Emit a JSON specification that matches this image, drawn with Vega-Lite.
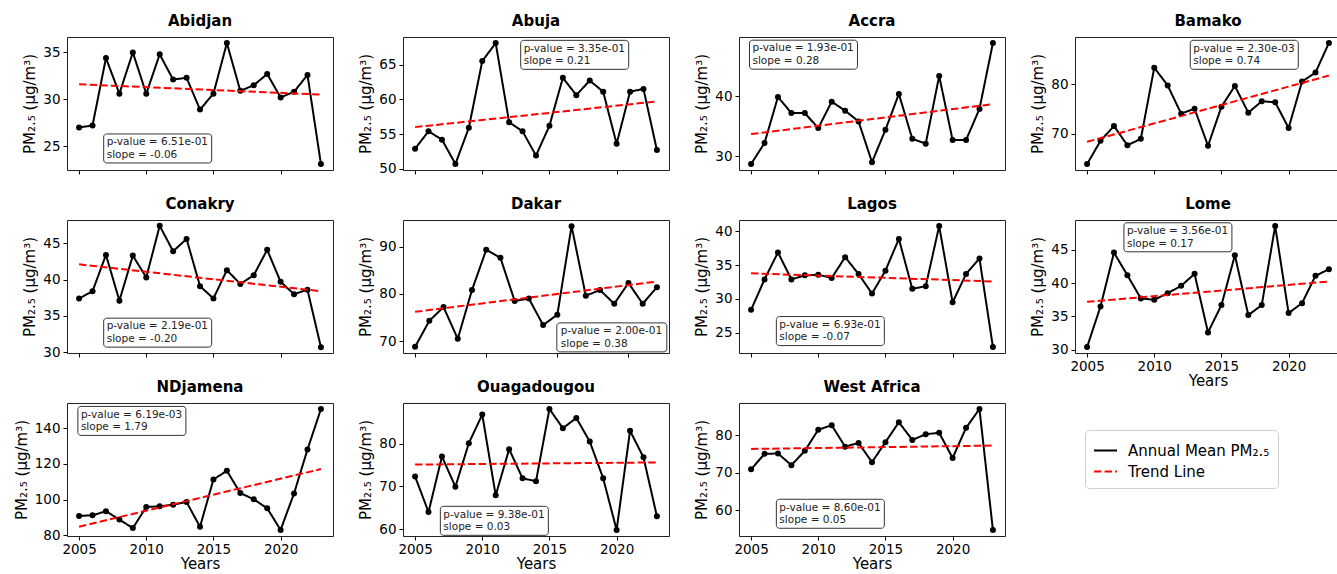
{
"$schema": "https://vega.github.io/schema/vega-lite/v6.json",
"background": "white",
"padding": {"left": 13, "top": 13, "right": 0, "bottom": 0},
"data": {"values": [
{"city":"Abidjan","kind":"a","year":2005,"pm":27.0},{"city":"Abidjan","kind":"a","year":2006,"pm":27.2},{"city":"Abidjan","kind":"a","year":2007,"pm":34.4},{"city":"Abidjan","kind":"a","year":2008,"pm":30.6},{"city":"Abidjan","kind":"a","year":2009,"pm":35.0},{"city":"Abidjan","kind":"a","year":2010,"pm":30.6},{"city":"Abidjan","kind":"a","year":2011,"pm":34.8},{"city":"Abidjan","kind":"a","year":2012,"pm":32.1},{"city":"Abidjan","kind":"a","year":2013,"pm":32.3},{"city":"Abidjan","kind":"a","year":2014,"pm":28.9},{"city":"Abidjan","kind":"a","year":2015,"pm":30.6},{"city":"Abidjan","kind":"a","year":2016,"pm":36.0},{"city":"Abidjan","kind":"a","year":2017,"pm":30.9},{"city":"Abidjan","kind":"a","year":2018,"pm":31.5},{"city":"Abidjan","kind":"a","year":2019,"pm":32.7},{"city":"Abidjan","kind":"a","year":2020,"pm":30.2},{"city":"Abidjan","kind":"a","year":2021,"pm":30.8},{"city":"Abidjan","kind":"a","year":2022,"pm":32.6},{"city":"Abidjan","kind":"a","year":2023,"pm":23.1},
{"city":"Abidjan","kind":"t","year":2005,"pm":31.6},{"city":"Abidjan","kind":"t","year":2023,"pm":30.5},
{"city":"Abidjan","kind":"s","year":2010.85,"pm":24.75,"label":"p-value = 6.51e-01\nslope = -0.06"},
{"city":"Abuja","kind":"a","year":2005,"pm":52.9},{"city":"Abuja","kind":"a","year":2006,"pm":55.4},{"city":"Abuja","kind":"a","year":2007,"pm":54.2},{"city":"Abuja","kind":"a","year":2008,"pm":50.7},{"city":"Abuja","kind":"a","year":2009,"pm":55.9},{"city":"Abuja","kind":"a","year":2010,"pm":65.5},{"city":"Abuja","kind":"a","year":2011,"pm":68.1},{"city":"Abuja","kind":"a","year":2012,"pm":56.7},{"city":"Abuja","kind":"a","year":2013,"pm":55.4},{"city":"Abuja","kind":"a","year":2014,"pm":51.9},{"city":"Abuja","kind":"a","year":2015,"pm":56.2},{"city":"Abuja","kind":"a","year":2016,"pm":63.1},{"city":"Abuja","kind":"a","year":2017,"pm":60.6},{"city":"Abuja","kind":"a","year":2018,"pm":62.7},{"city":"Abuja","kind":"a","year":2019,"pm":61.1},{"city":"Abuja","kind":"a","year":2020,"pm":53.6},{"city":"Abuja","kind":"a","year":2021,"pm":61.1},{"city":"Abuja","kind":"a","year":2022,"pm":61.5},{"city":"Abuja","kind":"a","year":2023,"pm":52.7},
{"city":"Abuja","kind":"t","year":2005,"pm":56.0},{"city":"Abuja","kind":"t","year":2023,"pm":59.7},
{"city":"Abuja","kind":"s","year":2016.88,"pm":66.4,"label":"p-value = 3.35e-01\nslope = 0.21"},
{"city":"Accra","kind":"a","year":2005,"pm":28.7},{"city":"Accra","kind":"a","year":2006,"pm":32.2},{"city":"Accra","kind":"a","year":2007,"pm":39.9},{"city":"Accra","kind":"a","year":2008,"pm":37.2},{"city":"Accra","kind":"a","year":2009,"pm":37.2},{"city":"Accra","kind":"a","year":2010,"pm":34.7},{"city":"Accra","kind":"a","year":2011,"pm":39.1},{"city":"Accra","kind":"a","year":2012,"pm":37.6},{"city":"Accra","kind":"a","year":2013,"pm":35.8},{"city":"Accra","kind":"a","year":2014,"pm":29.0},{"city":"Accra","kind":"a","year":2015,"pm":34.4},{"city":"Accra","kind":"a","year":2016,"pm":40.4},{"city":"Accra","kind":"a","year":2017,"pm":32.9},{"city":"Accra","kind":"a","year":2018,"pm":32.1},{"city":"Accra","kind":"a","year":2019,"pm":43.4},{"city":"Accra","kind":"a","year":2020,"pm":32.7},{"city":"Accra","kind":"a","year":2021,"pm":32.7},{"city":"Accra","kind":"a","year":2022,"pm":37.9},{"city":"Accra","kind":"a","year":2023,"pm":48.9},
{"city":"Accra","kind":"t","year":2005,"pm":33.7},{"city":"Accra","kind":"t","year":2023,"pm":38.7},
{"city":"Accra","kind":"s","year":2008.9,"pm":46.95,"label":"p-value = 1.93e-01\nslope = 0.28"},
{"city":"Bamako","kind":"a","year":2005,"pm":63.9},{"city":"Bamako","kind":"a","year":2006,"pm":68.6},{"city":"Bamako","kind":"a","year":2007,"pm":71.6},{"city":"Bamako","kind":"a","year":2008,"pm":67.7},{"city":"Bamako","kind":"a","year":2009,"pm":69.0},{"city":"Bamako","kind":"a","year":2010,"pm":83.4},{"city":"Bamako","kind":"a","year":2011,"pm":79.8},{"city":"Bamako","kind":"a","year":2012,"pm":74.1},{"city":"Bamako","kind":"a","year":2013,"pm":75.1},{"city":"Bamako","kind":"a","year":2014,"pm":67.6},{"city":"Bamako","kind":"a","year":2015,"pm":75.5},{"city":"Bamako","kind":"a","year":2016,"pm":79.7},{"city":"Bamako","kind":"a","year":2017,"pm":74.3},{"city":"Bamako","kind":"a","year":2018,"pm":76.6},{"city":"Bamako","kind":"a","year":2019,"pm":76.4},{"city":"Bamako","kind":"a","year":2020,"pm":71.2},{"city":"Bamako","kind":"a","year":2021,"pm":80.6},{"city":"Bamako","kind":"a","year":2022,"pm":82.4},{"city":"Bamako","kind":"a","year":2023,"pm":88.4},
{"city":"Bamako","kind":"t","year":2005,"pm":68.4},{"city":"Bamako","kind":"t","year":2023,"pm":81.8},
{"city":"Bamako","kind":"s","year":2016.7,"pm":86.0,"label":"p-value = 2.30e-03\nslope = 0.74"},
{"city":"Conakry","kind":"a","year":2005,"pm":37.4},{"city":"Conakry","kind":"a","year":2006,"pm":38.4},{"city":"Conakry","kind":"a","year":2007,"pm":43.4},{"city":"Conakry","kind":"a","year":2008,"pm":37.1},{"city":"Conakry","kind":"a","year":2009,"pm":43.3},{"city":"Conakry","kind":"a","year":2010,"pm":40.3},{"city":"Conakry","kind":"a","year":2011,"pm":47.4},{"city":"Conakry","kind":"a","year":2012,"pm":43.9},{"city":"Conakry","kind":"a","year":2013,"pm":45.6},{"city":"Conakry","kind":"a","year":2014,"pm":39.1},{"city":"Conakry","kind":"a","year":2015,"pm":37.4},{"city":"Conakry","kind":"a","year":2016,"pm":41.3},{"city":"Conakry","kind":"a","year":2017,"pm":39.4},{"city":"Conakry","kind":"a","year":2018,"pm":40.6},{"city":"Conakry","kind":"a","year":2019,"pm":44.1},{"city":"Conakry","kind":"a","year":2020,"pm":39.7},{"city":"Conakry","kind":"a","year":2021,"pm":38.0},{"city":"Conakry","kind":"a","year":2022,"pm":38.6},{"city":"Conakry","kind":"a","year":2023,"pm":30.7},
{"city":"Conakry","kind":"t","year":2005,"pm":42.1},{"city":"Conakry","kind":"t","year":2023,"pm":38.4},
{"city":"Conakry","kind":"s","year":2010.85,"pm":32.7,"label":"p-value = 2.19e-01\nslope = -0.20"},
{"city":"Dakar","kind":"a","year":2005,"pm":68.8},{"city":"Dakar","kind":"a","year":2006,"pm":74.3},{"city":"Dakar","kind":"a","year":2007,"pm":77.2},{"city":"Dakar","kind":"a","year":2008,"pm":70.5},{"city":"Dakar","kind":"a","year":2009,"pm":80.8},{"city":"Dakar","kind":"a","year":2010,"pm":89.3},{"city":"Dakar","kind":"a","year":2011,"pm":87.6},{"city":"Dakar","kind":"a","year":2012,"pm":78.5},{"city":"Dakar","kind":"a","year":2013,"pm":79.0},{"city":"Dakar","kind":"a","year":2014,"pm":73.4},{"city":"Dakar","kind":"a","year":2015,"pm":75.6},{"city":"Dakar","kind":"a","year":2016,"pm":94.3},{"city":"Dakar","kind":"a","year":2017,"pm":79.6},{"city":"Dakar","kind":"a","year":2018,"pm":80.8},{"city":"Dakar","kind":"a","year":2019,"pm":77.9},{"city":"Dakar","kind":"a","year":2020,"pm":82.3},{"city":"Dakar","kind":"a","year":2021,"pm":77.9},{"city":"Dakar","kind":"a","year":2022,"pm":81.4},
{"city":"Dakar","kind":"t","year":2005,"pm":76.2},{"city":"Dakar","kind":"t","year":2022,"pm":82.6},
{"city":"Dakar","kind":"s","year":2018.83,"pm":70.8,"label":"p-value = 2.00e-01\nslope = 0.38"},
{"city":"Lagos","kind":"a","year":2005,"pm":28.4},{"city":"Lagos","kind":"a","year":2006,"pm":32.9},{"city":"Lagos","kind":"a","year":2007,"pm":36.9},{"city":"Lagos","kind":"a","year":2008,"pm":32.9},{"city":"Lagos","kind":"a","year":2009,"pm":33.5},{"city":"Lagos","kind":"a","year":2010,"pm":33.6},{"city":"Lagos","kind":"a","year":2011,"pm":33.1},{"city":"Lagos","kind":"a","year":2012,"pm":36.2},{"city":"Lagos","kind":"a","year":2013,"pm":33.7},{"city":"Lagos","kind":"a","year":2014,"pm":30.8},{"city":"Lagos","kind":"a","year":2015,"pm":34.2},{"city":"Lagos","kind":"a","year":2016,"pm":38.9},{"city":"Lagos","kind":"a","year":2017,"pm":31.5},{"city":"Lagos","kind":"a","year":2018,"pm":31.9},{"city":"Lagos","kind":"a","year":2019,"pm":40.8},{"city":"Lagos","kind":"a","year":2020,"pm":29.5},{"city":"Lagos","kind":"a","year":2021,"pm":33.7},{"city":"Lagos","kind":"a","year":2022,"pm":36.0},{"city":"Lagos","kind":"a","year":2023,"pm":22.9},
{"city":"Lagos","kind":"t","year":2005,"pm":33.8},{"city":"Lagos","kind":"t","year":2023,"pm":32.6},
{"city":"Lagos","kind":"s","year":2010.9,"pm":25.25,"label":"p-value = 6.93e-01\nslope = -0.07"},
{"city":"Lome","kind":"a","year":2005,"pm":30.4},{"city":"Lome","kind":"a","year":2006,"pm":36.5},{"city":"Lome","kind":"a","year":2007,"pm":44.6},{"city":"Lome","kind":"a","year":2008,"pm":41.2},{"city":"Lome","kind":"a","year":2009,"pm":37.7},{"city":"Lome","kind":"a","year":2010,"pm":37.5},{"city":"Lome","kind":"a","year":2011,"pm":38.5},{"city":"Lome","kind":"a","year":2012,"pm":39.6},{"city":"Lome","kind":"a","year":2013,"pm":41.4},{"city":"Lome","kind":"a","year":2014,"pm":32.6},{"city":"Lome","kind":"a","year":2015,"pm":36.7},{"city":"Lome","kind":"a","year":2016,"pm":44.2},{"city":"Lome","kind":"a","year":2017,"pm":35.2},{"city":"Lome","kind":"a","year":2018,"pm":36.7},{"city":"Lome","kind":"a","year":2019,"pm":48.6},{"city":"Lome","kind":"a","year":2020,"pm":35.5},{"city":"Lome","kind":"a","year":2021,"pm":37.0},{"city":"Lome","kind":"a","year":2022,"pm":41.1},{"city":"Lome","kind":"a","year":2023,"pm":42.1},
{"city":"Lome","kind":"t","year":2005,"pm":37.2},{"city":"Lome","kind":"t","year":2023,"pm":40.25},
{"city":"Lome","kind":"s","year":2011.76,"pm":46.9,"label":"p-value = 3.56e-01\nslope = 0.17"},
{"city":"NDjamena","kind":"a","year":2005,"pm":90.9},{"city":"NDjamena","kind":"a","year":2006,"pm":91.3},{"city":"NDjamena","kind":"a","year":2007,"pm":93.5},{"city":"NDjamena","kind":"a","year":2008,"pm":88.9},{"city":"NDjamena","kind":"a","year":2009,"pm":84.1},{"city":"NDjamena","kind":"a","year":2010,"pm":95.9},{"city":"NDjamena","kind":"a","year":2011,"pm":96.3},{"city":"NDjamena","kind":"a","year":2012,"pm":97.2},{"city":"NDjamena","kind":"a","year":2013,"pm":98.7},{"city":"NDjamena","kind":"a","year":2014,"pm":84.8},{"city":"NDjamena","kind":"a","year":2015,"pm":111.3},{"city":"NDjamena","kind":"a","year":2016,"pm":116.1},{"city":"NDjamena","kind":"a","year":2017,"pm":103.7},{"city":"NDjamena","kind":"a","year":2018,"pm":100.2},{"city":"NDjamena","kind":"a","year":2019,"pm":95.2},{"city":"NDjamena","kind":"a","year":2020,"pm":83.1},{"city":"NDjamena","kind":"a","year":2021,"pm":103.5},{"city":"NDjamena","kind":"a","year":2022,"pm":128.0},{"city":"NDjamena","kind":"a","year":2023,"pm":150.6},
{"city":"NDjamena","kind":"t","year":2005,"pm":84.9},{"city":"NDjamena","kind":"t","year":2023,"pm":117.1},
{"city":"NDjamena","kind":"s","year":2008.93,"pm":144.0,"label":"p-value = 6.19e-03\nslope = 1.79"},
{"city":"Ouagadougou","kind":"a","year":2005,"pm":72.3},{"city":"Ouagadougou","kind":"a","year":2006,"pm":64.0},{"city":"Ouagadougou","kind":"a","year":2007,"pm":77.0},{"city":"Ouagadougou","kind":"a","year":2008,"pm":69.9},{"city":"Ouagadougou","kind":"a","year":2009,"pm":80.1},{"city":"Ouagadougou","kind":"a","year":2010,"pm":86.8},{"city":"Ouagadougou","kind":"a","year":2011,"pm":67.9},{"city":"Ouagadougou","kind":"a","year":2012,"pm":78.7},{"city":"Ouagadougou","kind":"a","year":2013,"pm":71.9},{"city":"Ouagadougou","kind":"a","year":2014,"pm":71.2},{"city":"Ouagadougou","kind":"a","year":2015,"pm":88.1},{"city":"Ouagadougou","kind":"a","year":2016,"pm":83.6},{"city":"Ouagadougou","kind":"a","year":2017,"pm":86.0},{"city":"Ouagadougou","kind":"a","year":2018,"pm":80.5},{"city":"Ouagadougou","kind":"a","year":2019,"pm":71.9},{"city":"Ouagadougou","kind":"a","year":2020,"pm":59.8},{"city":"Ouagadougou","kind":"a","year":2021,"pm":83.0},{"city":"Ouagadougou","kind":"a","year":2022,"pm":76.8},{"city":"Ouagadougou","kind":"a","year":2023,"pm":63.0},
{"city":"Ouagadougou","kind":"t","year":2005,"pm":75.1},{"city":"Ouagadougou","kind":"t","year":2023,"pm":75.6},
{"city":"Ouagadougou","kind":"s","year":2010.9,"pm":61.95,"label":"p-value = 9.38e-01\nslope = 0.03"},
{"city":"West Africa","kind":"a","year":2005,"pm":70.9},{"city":"West Africa","kind":"a","year":2006,"pm":75.0},{"city":"West Africa","kind":"a","year":2007,"pm":75.1},{"city":"West Africa","kind":"a","year":2008,"pm":72.0},{"city":"West Africa","kind":"a","year":2009,"pm":75.8},{"city":"West Africa","kind":"a","year":2010,"pm":81.4},{"city":"West Africa","kind":"a","year":2011,"pm":82.6},{"city":"West Africa","kind":"a","year":2012,"pm":76.9},{"city":"West Africa","kind":"a","year":2013,"pm":77.9},{"city":"West Africa","kind":"a","year":2014,"pm":72.8},{"city":"West Africa","kind":"a","year":2015,"pm":78.1},{"city":"West Africa","kind":"a","year":2016,"pm":83.4},{"city":"West Africa","kind":"a","year":2017,"pm":78.7},{"city":"West Africa","kind":"a","year":2018,"pm":80.2},{"city":"West Africa","kind":"a","year":2019,"pm":80.6},{"city":"West Africa","kind":"a","year":2020,"pm":73.9},{"city":"West Africa","kind":"a","year":2021,"pm":81.9},{"city":"West Africa","kind":"a","year":2022,"pm":86.9},{"city":"West Africa","kind":"a","year":2023,"pm":54.8},
{"city":"West Africa","kind":"t","year":2005,"pm":76.3},{"city":"West Africa","kind":"t","year":2023,"pm":77.2},
{"city":"West Africa","kind":"s","year":2010.9,"pm":59.1,"label":"p-value = 8.60e-01\nslope = 0.05"}
]},
"columns": 4,
"spacing": {"row": 50, "column": 70},
"bounds": "flush",
"resolve": {"scale": {"x": "independent", "y": "independent", "color": "shared", "strokeDash": "shared"}},
"concat": [
{"title":"Abidjan","width":266,"height":133,"transform":[{"filter":"datum.city==='Abidjan'"}],
 "encoding":{"x":{"field":"year","type":"quantitative","scale":{"domain":[2004.1,2023.9],"nice":false,"zero":false},"axis":{"values":[2005,2010,2015,2020],"format":"d","labels":false,"title":null}},
  "y":{"field":"pm","type":"quantitative","scale":{"domain":[22.45,36.65],"nice":false,"zero":false},"axis":{"values":[25,30,35],"title":"PM₂.₅ (μg/m³)"}}},
 "layer":[
  {"transform":[{"filter":"datum.kind==='a'"}],"mark":"line","encoding":{"color":{"datum":"Annual Mean PM₂.₅","type":"nominal","scale":{"domain":["Annual Mean PM₂.₅","Trend Line"],"range":["#000000","#ff0000"]}},"strokeDash":{"datum":"Annual Mean PM₂.₅","type":"nominal","scale":{"domain":["Annual Mean PM₂.₅","Trend Line"],"range":[[1,0],[7.4,3.2]]}}}},
  {"transform":[{"filter":"datum.kind==='a'"}],"mark":"point","encoding":{}},
  {"transform":[{"filter":"datum.kind==='t'"}],"mark":"line","encoding":{"color":{"datum":"Trend Line","type":"nominal"},"strokeDash":{"datum":"Trend Line","type":"nominal"}}},
  {"transform":[{"filter":"datum.kind==='s'"}],"mark":{"type":"rect","width":108,"height":29},"encoding":{}},
  {"transform":[{"filter":"datum.kind==='s'"}],"mark":"text","encoding":{"text":{"field":"label"}}}
 ]},
{"title":"Abuja","width":266,"height":133,"transform":[{"filter":"datum.city==='Abuja'"}],
 "encoding":{"x":{"field":"year","type":"quantitative","scale":{"domain":[2004.1,2023.9],"nice":false,"zero":false},"axis":{"values":[2005,2010,2015,2020],"format":"d","labels":false,"title":null}},
  "y":{"field":"pm","type":"quantitative","scale":{"domain":[49.83,68.97],"nice":false,"zero":false},"axis":{"values":[50,55,60,65],"title":"PM₂.₅ (μg/m³)"}}},
 "layer":[
  {"transform":[{"filter":"datum.kind==='a'"}],"mark":"line","encoding":{"color":{"datum":"Annual Mean PM₂.₅","type":"nominal"},"strokeDash":{"datum":"Annual Mean PM₂.₅","type":"nominal"}}},
  {"transform":[{"filter":"datum.kind==='a'"}],"mark":"point","encoding":{}},
  {"transform":[{"filter":"datum.kind==='t'"}],"mark":"line","encoding":{"color":{"datum":"Trend Line","type":"nominal"},"strokeDash":{"datum":"Trend Line","type":"nominal"}}},
  {"transform":[{"filter":"datum.kind==='s'"}],"mark":{"type":"rect","width":108,"height":29},"encoding":{}},
  {"transform":[{"filter":"datum.kind==='s'"}],"mark":"text","encoding":{"text":{"field":"label"}}}
 ]},
{"title":"Accra","width":266,"height":133,"transform":[{"filter":"datum.city==='Accra'"}],
 "encoding":{"x":{"field":"year","type":"quantitative","scale":{"domain":[2004.1,2023.9],"nice":false,"zero":false},"axis":{"values":[2005,2010,2015,2020],"format":"d","labels":false,"title":null}},
  "y":{"field":"pm","type":"quantitative","scale":{"domain":[27.7,49.9],"nice":false,"zero":false},"axis":{"values":[30,40],"title":"PM₂.₅ (μg/m³)"}}},
 "layer":[
  {"transform":[{"filter":"datum.kind==='a'"}],"mark":"line","encoding":{"color":{"datum":"Annual Mean PM₂.₅","type":"nominal"},"strokeDash":{"datum":"Annual Mean PM₂.₅","type":"nominal"}}},
  {"transform":[{"filter":"datum.kind==='a'"}],"mark":"point","encoding":{}},
  {"transform":[{"filter":"datum.kind==='t'"}],"mark":"line","encoding":{"color":{"datum":"Trend Line","type":"nominal"},"strokeDash":{"datum":"Trend Line","type":"nominal"}}},
  {"transform":[{"filter":"datum.kind==='s'"}],"mark":{"type":"rect","width":108,"height":29},"encoding":{}},
  {"transform":[{"filter":"datum.kind==='s'"}],"mark":"text","encoding":{"text":{"field":"label"}}}
 ]},
{"title":"Bamako","width":266,"height":133,"transform":[{"filter":"datum.city==='Bamako'"}],
 "encoding":{"x":{"field":"year","type":"quantitative","scale":{"domain":[2004.1,2023.9],"nice":false,"zero":false},"axis":{"values":[2005,2010,2015,2020],"format":"d","labels":false,"title":null}},
  "y":{"field":"pm","type":"quantitative","scale":{"domain":[62.7,89.6],"nice":false,"zero":false},"axis":{"values":[70,80],"title":"PM₂.₅ (μg/m³)"}}},
 "layer":[
  {"transform":[{"filter":"datum.kind==='a'"}],"mark":"line","encoding":{"color":{"datum":"Annual Mean PM₂.₅","type":"nominal"},"strokeDash":{"datum":"Annual Mean PM₂.₅","type":"nominal"}}},
  {"transform":[{"filter":"datum.kind==='a'"}],"mark":"point","encoding":{}},
  {"transform":[{"filter":"datum.kind==='t'"}],"mark":"line","encoding":{"color":{"datum":"Trend Line","type":"nominal"},"strokeDash":{"datum":"Trend Line","type":"nominal"}}},
  {"transform":[{"filter":"datum.kind==='s'"}],"mark":{"type":"rect","width":108,"height":29},"encoding":{}},
  {"transform":[{"filter":"datum.kind==='s'"}],"mark":"text","encoding":{"text":{"field":"label"}}}
 ]},
{"title":"Conakry","width":266,"height":133,"transform":[{"filter":"datum.city==='Conakry'"}],
 "encoding":{"x":{"field":"year","type":"quantitative","scale":{"domain":[2004.1,2023.9],"nice":false,"zero":false},"axis":{"values":[2005,2010,2015,2020],"format":"d","labels":false,"title":null}},
  "y":{"field":"pm","type":"quantitative","scale":{"domain":[29.9,48.2],"nice":false,"zero":false},"axis":{"values":[30,35,40,45],"title":"PM₂.₅ (μg/m³)"}}},
 "layer":[
  {"transform":[{"filter":"datum.kind==='a'"}],"mark":"line","encoding":{"color":{"datum":"Annual Mean PM₂.₅","type":"nominal"},"strokeDash":{"datum":"Annual Mean PM₂.₅","type":"nominal"}}},
  {"transform":[{"filter":"datum.kind==='a'"}],"mark":"point","encoding":{}},
  {"transform":[{"filter":"datum.kind==='t'"}],"mark":"line","encoding":{"color":{"datum":"Trend Line","type":"nominal"},"strokeDash":{"datum":"Trend Line","type":"nominal"}}},
  {"transform":[{"filter":"datum.kind==='s'"}],"mark":{"type":"rect","width":108,"height":29},"encoding":{}},
  {"transform":[{"filter":"datum.kind==='s'"}],"mark":"text","encoding":{"text":{"field":"label"}}}
 ]},
{"title":"Dakar","width":266,"height":133,"transform":[{"filter":"datum.city==='Dakar'"}],
 "encoding":{"x":{"field":"year","type":"quantitative","scale":{"domain":[2004.15,2022.85],"nice":false,"zero":false},"axis":{"values":[2005,2010,2015,2020],"format":"d","labels":false,"title":null}},
  "y":{"field":"pm","type":"quantitative","scale":{"domain":[67.5,95.6],"nice":false,"zero":false},"axis":{"values":[70,80,90],"title":"PM₂.₅ (μg/m³)"}}},
 "layer":[
  {"transform":[{"filter":"datum.kind==='a'"}],"mark":"line","encoding":{"color":{"datum":"Annual Mean PM₂.₅","type":"nominal"},"strokeDash":{"datum":"Annual Mean PM₂.₅","type":"nominal"}}},
  {"transform":[{"filter":"datum.kind==='a'"}],"mark":"point","encoding":{}},
  {"transform":[{"filter":"datum.kind==='t'"}],"mark":"line","encoding":{"color":{"datum":"Trend Line","type":"nominal"},"strokeDash":{"datum":"Trend Line","type":"nominal"}}},
  {"transform":[{"filter":"datum.kind==='s'"}],"mark":{"type":"rect","width":110,"height":29},"encoding":{}},
  {"transform":[{"filter":"datum.kind==='s'"}],"mark":"text","encoding":{"text":{"field":"label"}}}
 ]},
{"title":"Lagos","width":266,"height":133,"transform":[{"filter":"datum.city==='Lagos'"}],
 "encoding":{"x":{"field":"year","type":"quantitative","scale":{"domain":[2004.1,2023.9],"nice":false,"zero":false},"axis":{"values":[2005,2010,2015,2020],"format":"d","labels":false,"title":null}},
  "y":{"field":"pm","type":"quantitative","scale":{"domain":[22.0,41.7],"nice":false,"zero":false},"axis":{"values":[25,30,35,40],"title":"PM₂.₅ (μg/m³)"}}},
 "layer":[
  {"transform":[{"filter":"datum.kind==='a'"}],"mark":"line","encoding":{"color":{"datum":"Annual Mean PM₂.₅","type":"nominal"},"strokeDash":{"datum":"Annual Mean PM₂.₅","type":"nominal"}}},
  {"transform":[{"filter":"datum.kind==='a'"}],"mark":"point","encoding":{}},
  {"transform":[{"filter":"datum.kind==='t'"}],"mark":"line","encoding":{"color":{"datum":"Trend Line","type":"nominal"},"strokeDash":{"datum":"Trend Line","type":"nominal"}}},
  {"transform":[{"filter":"datum.kind==='s'"}],"mark":{"type":"rect","width":108,"height":29},"encoding":{}},
  {"transform":[{"filter":"datum.kind==='s'"}],"mark":"text","encoding":{"text":{"field":"label"}}}
 ]},
{"title":"Lome","width":266,"height":133,"transform":[{"filter":"datum.city==='Lome'"}],
 "encoding":{"x":{"field":"year","type":"quantitative","scale":{"domain":[2004.1,2023.9],"nice":false,"zero":false},"axis":{"values":[2005,2010,2015,2020],"format":"d","title":"Years"}},
  "y":{"field":"pm","type":"quantitative","scale":{"domain":[29.5,49.5],"nice":false,"zero":false},"axis":{"values":[30,35,40,45],"title":"PM₂.₅ (μg/m³)"}}},
 "layer":[
  {"transform":[{"filter":"datum.kind==='a'"}],"mark":"line","encoding":{"color":{"datum":"Annual Mean PM₂.₅","type":"nominal"},"strokeDash":{"datum":"Annual Mean PM₂.₅","type":"nominal"}}},
  {"transform":[{"filter":"datum.kind==='a'"}],"mark":"point","encoding":{}},
  {"transform":[{"filter":"datum.kind==='t'"}],"mark":"line","encoding":{"color":{"datum":"Trend Line","type":"nominal"},"strokeDash":{"datum":"Trend Line","type":"nominal"}}},
  {"transform":[{"filter":"datum.kind==='s'"}],"mark":{"type":"rect","width":108,"height":29},"encoding":{}},
  {"transform":[{"filter":"datum.kind==='s'"}],"mark":"text","encoding":{"text":{"field":"label"}}}
 ]},
{"title":"NDjamena","width":266,"height":133,"transform":[{"filter":"datum.city==='NDjamena'"}],
 "encoding":{"x":{"field":"year","type":"quantitative","scale":{"domain":[2004.1,2023.9],"nice":false,"zero":false},"axis":{"values":[2005,2010,2015,2020],"format":"d","title":"Years"}},
  "y":{"field":"pm","type":"quantitative","scale":{"domain":[79.7,154.0],"nice":false,"zero":false},"axis":{"values":[80,100,120,140],"title":"PM₂.₅ (μg/m³)"}}},
 "layer":[
  {"transform":[{"filter":"datum.kind==='a'"}],"mark":"line","encoding":{"color":{"datum":"Annual Mean PM₂.₅","type":"nominal"},"strokeDash":{"datum":"Annual Mean PM₂.₅","type":"nominal"}}},
  {"transform":[{"filter":"datum.kind==='a'"}],"mark":"point","encoding":{}},
  {"transform":[{"filter":"datum.kind==='t'"}],"mark":"line","encoding":{"color":{"datum":"Trend Line","type":"nominal"},"strokeDash":{"datum":"Trend Line","type":"nominal"}}},
  {"transform":[{"filter":"datum.kind==='s'"}],"mark":{"type":"rect","width":108,"height":29},"encoding":{}},
  {"transform":[{"filter":"datum.kind==='s'"}],"mark":"text","encoding":{"text":{"field":"label"}}}
 ]},
{"title":"Ouagadougou","width":266,"height":133,"transform":[{"filter":"datum.city==='Ouagadougou'"}],
 "encoding":{"x":{"field":"year","type":"quantitative","scale":{"domain":[2004.1,2023.9],"nice":false,"zero":false},"axis":{"values":[2005,2010,2015,2020],"format":"d","title":"Years"}},
  "y":{"field":"pm","type":"quantitative","scale":{"domain":[58.4,89.5],"nice":false,"zero":false},"axis":{"values":[60,70,80],"title":"PM₂.₅ (μg/m³)"}}},
 "layer":[
  {"transform":[{"filter":"datum.kind==='a'"}],"mark":"line","encoding":{"color":{"datum":"Annual Mean PM₂.₅","type":"nominal"},"strokeDash":{"datum":"Annual Mean PM₂.₅","type":"nominal"}}},
  {"transform":[{"filter":"datum.kind==='a'"}],"mark":"point","encoding":{}},
  {"transform":[{"filter":"datum.kind==='t'"}],"mark":"line","encoding":{"color":{"datum":"Trend Line","type":"nominal"},"strokeDash":{"datum":"Trend Line","type":"nominal"}}},
  {"transform":[{"filter":"datum.kind==='s'"}],"mark":{"type":"rect","width":108,"height":29},"encoding":{}},
  {"transform":[{"filter":"datum.kind==='s'"}],"mark":"text","encoding":{"text":{"field":"label"}}}
 ]},
{"title":"West Africa","width":266,"height":133,"transform":[{"filter":"datum.city==='West Africa'"}],
 "encoding":{"x":{"field":"year","type":"quantitative","scale":{"domain":[2004.1,2023.9],"nice":false,"zero":false},"axis":{"values":[2005,2010,2015,2020],"format":"d","title":"Years"}},
  "y":{"field":"pm","type":"quantitative","scale":{"domain":[53.2,88.5],"nice":false,"zero":false},"axis":{"values":[60,70,80],"title":"PM₂.₅ (μg/m³)"}}},
 "layer":[
  {"transform":[{"filter":"datum.kind==='a'"}],"mark":"line","encoding":{"color":{"datum":"Annual Mean PM₂.₅","type":"nominal"},"strokeDash":{"datum":"Annual Mean PM₂.₅","type":"nominal"}}},
  {"transform":[{"filter":"datum.kind==='a'"}],"mark":"point","encoding":{}},
  {"transform":[{"filter":"datum.kind==='t'"}],"mark":"line","encoding":{"color":{"datum":"Trend Line","type":"nominal"},"strokeDash":{"datum":"Trend Line","type":"nominal"}}},
  {"transform":[{"filter":"datum.kind==='s'"}],"mark":{"type":"rect","width":108,"height":29},"encoding":{}},
  {"transform":[{"filter":"datum.kind==='s'"}],"mark":"text","encoding":{"text":{"field":"label"}}}
 ]}
],
"config": {
 "font": "DejaVu Sans",
 "view": {"stroke": "#222", "strokeWidth": 1},
 "axis": {"grid": false, "domain": false, "ticks": true, "tickColor": "#000", "tickSize": 4, "tickWidth": 1, "labelColor": "#000", "labelFont": "DejaVu Sans", "labelFontSize": 13.5, "labelPadding": 3, "titleFont": "DejaVu Sans", "titleFontSize": 15, "titleFontWeight": "normal", "titleColor": "#000", "titlePadding": 5},
 "axisX": {"titlePadding": 1, "labelPadding": 2},
 "title": {"font": "DejaVu Sans", "fontSize": 15, "fontWeight": "bold", "color": "#000", "offset": 8, "anchor": "middle"},
 "line": {"strokeWidth": 2},
 "point": {"filled": true, "size": 36, "color": "#000", "opacity": 1},
 "rect": {"fill": "#ffffff", "stroke": "#333333", "strokeWidth": 1, "cornerRadius": 3},
 "text": {"align": "left", "baseline": "middle", "dx": -51, "dy": -6.25, "fontSize": 10.5, "lineBreak": "\n", "lineHeight": 12.5, "color": "#222", "font": "DejaVu Sans"},
 "legend": {"orient": "none", "legendX": 1018, "legendY": 393, "symbolType": "stroke", "symbolSize": 529, "symbolStrokeWidth": 2, "labelFontSize": 15, "labelFont": "DejaVu Sans", "labelColor": "#000", "labelOffset": 10, "rowPadding": 0, "padding": 8, "strokeColor": "#d0d0d0", "fillColor": "#ffffff", "cornerRadius": 4}
}
}
